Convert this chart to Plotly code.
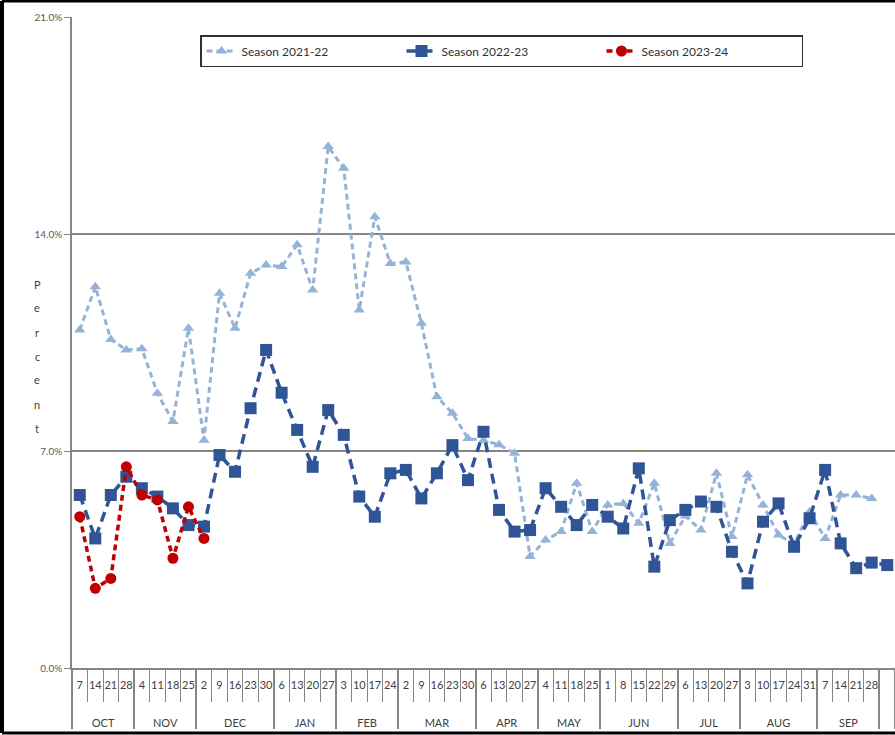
import plotly.graph_objects as go

W, H = 895, 735

MONTHS = ["OCT", "NOV", "DEC", "JAN", "FEB", "MAR", "APR", "MAY", "JUN", "JUL", "AUG", "SEP"]
WEEKS = [[7, 14, 21, 28], [4, 11, 18, 25], [2, 9, 16, 23, 30], [6, 13, 20, 27],
         [3, 10, 17, 24], [2, 9, 16, 23, 30], [6, 13, 20, 27], [4, 11, 18, 25],
         [1, 8, 15, 22, 29], [6, 13, 20, 27], [3, 10, 17, 24, 31], [7, 14, 21, 28]]

# percent positive per week
season_2122 = [10.9, 12.3, 10.6, 10.26, 10.3, 8.86, 7.95, 10.96, 7.35, 12.09, 10.96, 12.73, 13.0,
               12.95, 13.65, 12.19, 16.82, 16.12, 11.55, 14.56, 13.05, 13.1, 11.12, 8.75, 8.22,
               7.4, 7.35, 7.2, 6.93, 3.6, 4.13, 4.4, 5.96, 4.4, 5.26, 5.31, 4.67, 5.96, 4.02,
               4.9, 4.45, 6.28, 4.24, 6.23, 5.26, 4.29, 4.0, 5.04, 4.18, 5.58, 5.58, 5.47]
season_2223 = [5.58, 4.18, 5.58, 6.17, 5.8, 5.53, 5.15, 4.61, 4.56, 6.87, 6.33, 8.38, 10.26,
               8.88, 7.68, 6.49, 8.32, 7.52, 5.53, 4.88, 6.28, 6.39, 5.47, 6.28, 7.19, 6.06,
               7.62, 5.1, 4.4, 4.45, 5.8, 5.2, 4.61, 5.26, 4.88, 4.5, 6.44, 3.27, 4.77, 5.1,
               5.37, 5.2, 3.75, 2.73, 4.72, 5.31, 3.91, 4.83, 6.39, 4.02, 3.22, 3.4, 3.32]
season_2324 = [4.88, 2.57, 2.89, 6.49, 5.58, 5.42, 3.54, 5.2, 4.18]

Y_TICKS = [0, 7, 14, 21]

# multicategory x (month, week); one extra unlabeled week at the cut-off right edge
# (month label gets empty leading lines so it sits lower, like the original)
outer, inner = [], []
for m, wk in zip(MONTHS, WEEKS):
    for d in wk:
        outer.append(" <br> <br>" + m)
        inner.append(str(d))
outer.append(" ")
inner.append(" ")

def xs(n):
    return [outer[:n], inner[:n]]

LIGHT = "#95b3d7"
DARK = "#2f5597"
RED = "#c00000"
GRID = "#868686"

fig = go.Figure()
fig.add_trace(go.Scatter(x=xs(len(season_2122)), y=season_2122, name="Season 2021-22",
                         mode="lines+markers", line=dict(color=LIGHT, width=3, dash="6px,4px"),
                         marker=dict(symbol="triangle-up", size=10, color=LIGHT)))
fig.add_trace(go.Scatter(x=xs(len(season_2223)), y=season_2223, name="Season 2022-23",
                         mode="lines+markers", line=dict(color=DARK, width=3.5, dash="10px,6px"),
                         marker=dict(symbol="square", size=12, color=DARK)))
fig.add_trace(go.Scatter(x=xs(len(season_2324)), y=season_2324, name="Season 2023-24",
                         mode="lines+markers", line=dict(color=RED, width=3.5, dash="6px,4px"),
                         marker=dict(symbol="circle", size=11, color=RED)))

L, T, B = 72, 17, 67
pw, ph = W - L, H - T - B

fig.update_layout(
    width=W, height=H,
    margin=dict(l=L, r=0, t=T, b=B, autoexpand=False),
    paper_bgcolor="white", plot_bgcolor="white",
    font=dict(family="Lato, Open Sans, sans-serif", color="#404040", size=11),
    showlegend=True,
    legend=dict(orientation="h", x=(200 - L) / pw, xanchor="left", y=(H - B - 35) / ph, yanchor="top",
                bordercolor="#303030", borderwidth=1.5, bgcolor="white",
                entrywidth=155, entrywidthmode="pixels",
                font=dict(size=12, color="#303030")),
    xaxis=dict(type="multicategory", showgrid=False, showline=True, linecolor=GRID, linewidth=1.5,
               ticks="outside", tickson="boundaries", ticklen=32, tickcolor=GRID, tickangle=0,
               ticklabelstandoff=6,
               showdividers=True, dividercolor=GRID, dividerwidth=1.5,
               tickfont=dict(size=11, color="#404040"), range=[-0.5, 52.5]),
    yaxis=dict(range=[0, 21], tickvals=Y_TICKS, ticktext=[f"{v:.1f}%" for v in Y_TICKS],
               showgrid=True, gridcolor=GRID, gridwidth=1.5, zeroline=False,
               showline=True, linecolor=GRID, linewidth=1.5,
               ticks="outside", ticklen=6, tickcolor=GRID,
               tickfont=dict(size=10, color="#595959")),
)

# stacked "Percent" axis title, one letter per row
for i, ch in enumerate("Percent"):
    fig.add_annotation(text=ch, xref="paper", yref="paper",
                       x=(37 - L) / pw, y=(H - B - (284 + 24 * i)) / ph, showarrow=False,
                       font=dict(size=11, color="#404040"), xanchor="center", yanchor="middle")

# outer frame of the picture: left, top and bottom (right side is cut off in the original)
px = lambda v: (v - L) / pw
py = lambda v: (H - B - v) / ph
frame = dict(color="black", width=3)
fig.add_shape(type="line", xref="paper", yref="paper", x0=px(2), x1=px(2), y0=py(1), y1=py(733), line=dict(color="black", width=4))
fig.add_shape(type="line", xref="paper", yref="paper", x0=px(2), x1=px(W), y0=py(1), y1=py(1), line=frame)
fig.add_shape(type="line", xref="paper", yref="paper", x0=px(2), x1=px(W), y0=py(733), y1=py(733), line=frame)

fig.write_html("out.html", config={"displayModeBar": False},
               post_script="document.body.style.margin='0';"
                           "document.body.style.overflow='hidden';"
                           "document.documentElement.style.overflow='hidden';")
